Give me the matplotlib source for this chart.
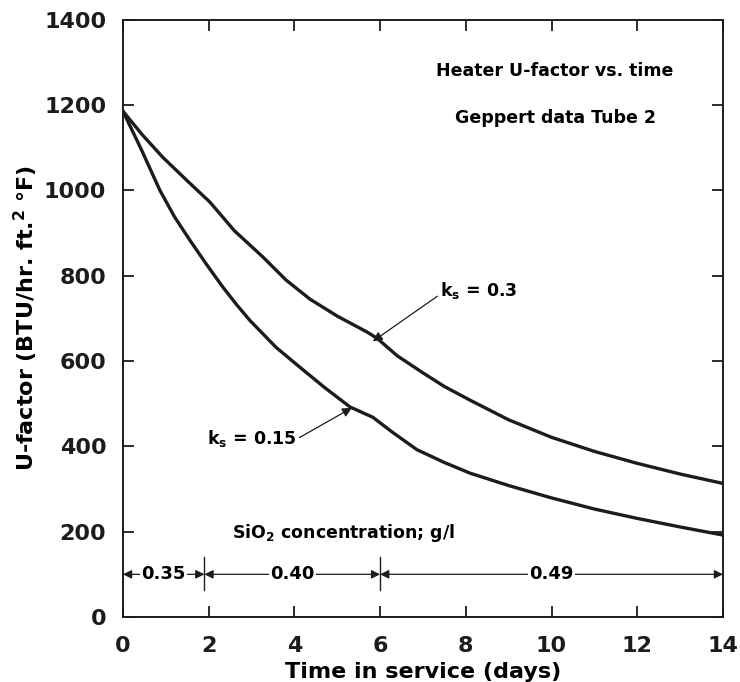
import numpy as np
import matplotlib
matplotlib.use("Agg")
import matplotlib.pyplot as plt

plt.rcParams['font.family'] = ['DejaVu Sans']
plt.rcParams['font.weight'] = 'bold'
plt.rcParams['mathtext.fontset'] = 'custom'
plt.rcParams['mathtext.rm'] = 'DejaVu Sans:bold'
plt.rcParams['mathtext.bf'] = 'DejaVu Sans:bold'
plt.rcParams['mathtext.it'] = 'DejaVu Sans:bold'
plt.rcParams['mathtext.default'] = 'rm'

# Heater U-factor curves (days, BTU/hr ft2 F)
days_03 = [0, 0.45, 0.93, 1.5, 2.03, 2.6, 3.27, 3.8, 4.36, 5.0, 5.69, 5.93,
           6.4, 7.0, 7.5, 8.1, 9.0, 10.0, 11.0, 12.0, 13.0, 14.0]
u_03 = [1185, 1130, 1077, 1022, 972, 905, 843, 790, 745, 705, 668, 653,
        612, 572, 540, 508, 462, 421, 388, 360, 335, 313]

days_015 = [0, 0.43, 0.86, 1.2, 1.56, 1.95, 2.33, 2.65, 2.96, 3.57, 4.13,
            4.7, 5.3, 5.83, 6.3, 6.86, 7.5, 8.1, 9.0, 10.0, 11.0, 12.0, 13.0, 14.0]
u_015 = [1185, 1095, 1000, 938, 883, 826, 773, 732, 695, 632, 585,
         538, 492, 468, 432, 392, 362, 337, 308, 279, 253, 231, 211, 192]

# SiO2 concentration periods
period_edges = [0, 1.9, 6, 14]
period_labels = ['0.35', '0.40', '0.49']

ink = '#1c1c1c'

fig = plt.figure(figsize=(7.4, 6.82), dpi=100)
ax = fig.add_axes([0.1662, 0.0953, 0.8108, 0.8761])

ax.plot(days_03, u_03, color=ink, lw=2.4, solid_joinstyle='round')
ax.plot(days_015, u_015, color=ink, lw=2.4, solid_joinstyle='round')

ax.set_xlim(0, 14)
ax.set_ylim(0, 1400)
ax.set_xticks(range(0, 15, 2))
ax.set_yticks(range(0, 1401, 200))
ax.tick_params(direction='in', length=8, width=1.3, labelsize=16,
               top=True, right=True, colors=ink)
ax.tick_params(axis='x', pad=14)
ax.tick_params(axis='y', pad=12)
for s in ax.spines.values():
    s.set_linewidth(1.4)
    s.set_color(ink)

ax.set_xlabel('Time in service (days)', fontsize=16, fontweight='bold', labelpad=4)
ax.set_ylabel(r'U-factor (BTU/hr. ft.$^{2}$ °F)', fontsize=16, fontweight='bold', labelpad=3)

ax.text(10.08, 1280, 'Heater U-factor vs. time', fontsize=12.5,
        ha='center', va='center')
ax.text(10.1, 1169, 'Geppert data Tube 2', fontsize=12.5,
        ha='center', va='center')

arrow = dict(arrowstyle='-|>', color=ink, lw=0.9, mutation_scale=14,
             shrinkA=0, shrinkB=0)
ax.annotate(r'k$_{s}$ = 0.3', xy=(5.83, 646), xytext=(7.4, 766),
            fontsize=12.5, va='center', ha='left',
            arrowprops=dict(arrow, relpos=(0, 0.3)))
ax.annotate(r'k$_{s}$ = 0.15', xy=(5.34, 490), xytext=(4.05, 419),
            fontsize=12.5, va='center', ha='right',
            arrowprops=dict(arrow, relpos=(1.02, 0.5)))

ax.text(2.54, 197, r'SiO$_{2}$ concentration; g/l', fontsize=12.5,
        va='center', ha='left')

# concentration periods with double-headed arrows
y_row = 100
for e in period_edges[1:-1]:
    ax.plot([e, e], [63, 140], color=ink, lw=1.0)
for i, lab in enumerate(period_labels):
    a, b = period_edges[i], period_edges[i + 1]
    ax.annotate('', xy=(a, y_row), xytext=(b, y_row),
                arrowprops=dict(arrowstyle='<|-|>', color=ink, lw=0.9,
                                mutation_scale=13, shrinkA=0, shrinkB=0))
    ax.text((a + b) / 2, y_row, lab, fontsize=13,
            ha='center', va='center',
            bbox=dict(facecolor='white', edgecolor='none', pad=1.0))

fig.savefig('out.png', dpi=100)
